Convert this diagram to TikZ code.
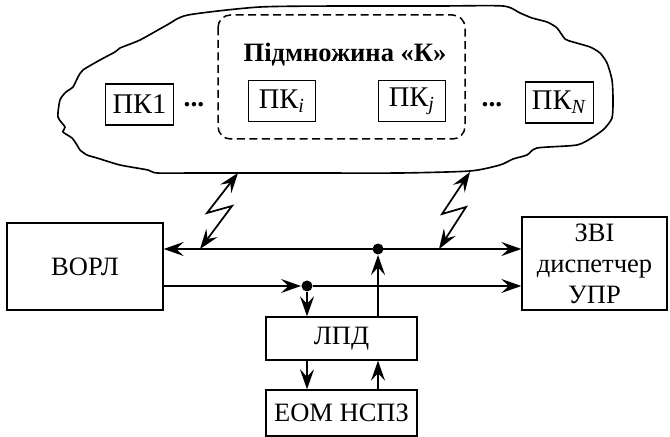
\documentclass[tikz,border=0pt]{standalone}
\usepackage{fontspec}
\setmainfont{Liberation Serif}
\usepackage{tikz}
\usetikzlibrary{arrows.meta,positioning}
\tikzset{
	basic/.style = {draw, line width=0.55pt, rectangle, inner sep=0pt, align=center, font=\fontsize{10.6}{12.4}\selectfont},
	pk/.style = {basic, minimum width=27pt, minimum height=16.4pt, font=\fontsize{11.4}{12}\selectfont},
	txt/.style = {inner sep=0pt, font=\fontsize{10.6}{11.6}\selectfont},
	dot/.style = {circle, fill, inner sep=0pt, minimum size=4.4pt},
	bus/.style = {line width=0.9pt},
	bolt/.style = {line width=0.7pt, <->}
}

\begin{document}
\begin{tikzpicture}[x=0.4pt, y=-0.4pt,
			>={Stealth[length=8pt, width=5.6pt, inset=3pt]}]
	\useasboundingbox (0,0) rectangle (670,437);

	% the network area
	\draw[line width=0.65pt] plot[smooth cycle, tension=0.4] coordinates {
		(188,15) (260,7) (350,6) (440,6) (503,6) (520,13) (532,18) (547,22)
		(557,28) (565,39) (573,42) (590,47) (600,53) (607,63) (612,80)
		(613,100) (612,118) (604,129) (593,137) (577,145) (537,148)
		(527,155) (513,159) (500,165) (470,171) (400,173) (300,173)
		(200,173) (157,173) (148,170) (120,165) (97,158) (87,155) (80,150)
		(77,145) (72,138) (63,132) (65,127) (58,117) (60,100) (66,92)
		(73,87) (78,77) (83,70) (100,60) (115,52) (120,48) (140,40) (167,25)};

	% subset of the stations
	\draw[line width=0.6pt, dash pattern=on 3.2pt off 1.8pt, rounded corners=5pt]
		(218,15) rectangle (465,139);
	\node[txt, font=\fontsize{10.6}{11.6}\selectfont\bfseries] (title) at (345,55) {Підмножина «К»};

	% stations
	\node[pk] (pk1) at (139.5,104.5) {ПК1};
	\node[txt, font=\fontsize{11}{12}\selectfont\bfseries] (dots1) at (194,105) {...};
	\node[pk] (pki) at (282,101) {ПК\textsubscript{\textit{i}}};
	\node[pk] (pkj) at (412,101) {ПК\textsubscript{\textit{j}}};
	\node[txt, font=\fontsize{11}{12}\selectfont\bfseries] (dots2) at (492,105) {...};
	\node[pk] (pkn) at (559.5,102.5) {ПК\textsubscript{\textit{N}}};

	% ground part
	\node[basic, minimum width=62.4pt, minimum height=34.8pt] (vorl) at (85,266.5) {ВОРЛ};
	\node[basic, minimum width=58pt, minimum height=37.2pt] (zvi) at (594.5,263.5) {ЗВІ\\диспетчер\\УПР};
	\node[basic, minimum width=60.4pt, minimum height=17.2pt] (lpd) at (341.5,338.5) {ЛПД};
	\node[basic, minimum width=60.4pt, minimum height=18.4pt] (eom) at (341.5,413) {ЕОМ НСПЗ};

	\node[dot] (j1) at (307,286) {};
	\node[dot] (j2) at (378,249) {};

	% buses
	\draw[bus, <->] (vorl.east |- j2) -- (zvi.west |- j2);
	\draw[line width=0.6pt, ->] (vorl.east |- j1) -- (j1);
	\draw[bus, ->] (j1) -- (zvi.west |- j1);
	\draw[bus, ->] (j1) -- (j1 |- lpd.north);
	\draw[bus, ->] (lpd.north -| j2) -- (j2);
	\draw[bus, ->] (lpd.south -| j1) -- (eom.north -| j1);
	\draw[bus, ->] (eom.north -| j2) -- (lpd.south -| j2);

	% radio links
	\coordinate (r1a) at (238,173);
	\coordinate (r1b) at (200,249);
	\coordinate (r2a) at (470,172);
	\coordinate (r2b) at (439,249);
	\draw[bolt] (r1a) -- (207,213) -- (232,206) -- (r1b);
	\draw[bolt] (r2a) -- (442,214) -- (466,207) -- (r2b);
\end{tikzpicture}
\end{document}
